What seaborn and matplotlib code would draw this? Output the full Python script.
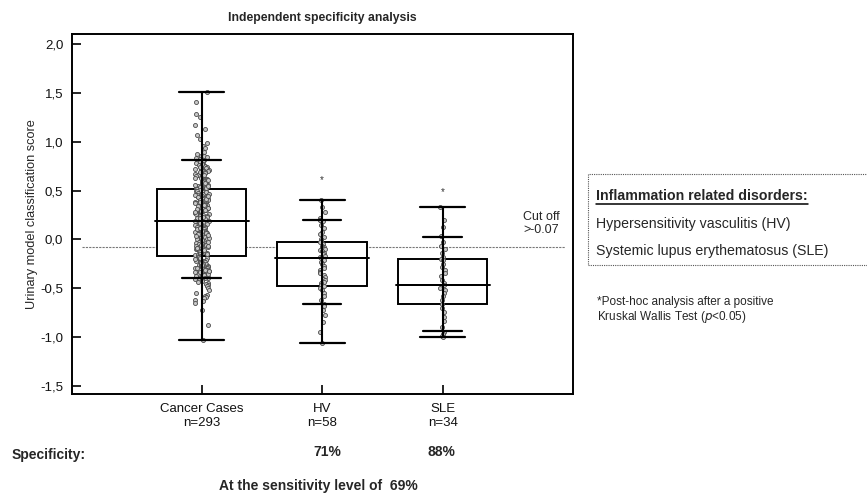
import matplotlib
matplotlib.use("Agg")
import matplotlib.pyplot as plt
from matplotlib.lines import Line2D
from matplotlib.patches import Rectangle
import seaborn as sns
import pandas as pd

groups = ["Cancer Cases", "HV", "SLE"]
tick_labels = ["Cancer Cases\nn=293", "HV\nn=58", "SLE\nn=34"]
specificity = ["", "71%", "88%"]

# values (approximate)
cancer_scores = [
    1.51, 1.41, 1.29, 1.26, 1.17, 1.13, 1.07, 1.03, 0.99, 0.96, 0.94, 0.90, 0.88, 0.86, 0.85, 0.84, 0.83, 0.82, 0.81,
    0.80, 0.79, 0.79, 0.78, 0.77, 0.76, 0.76, 0.75, 0.74, 0.73, 0.73, 0.72, 0.71, 0.70, 0.70, 0.69, 0.68, 0.67, 0.67,
    0.66, 0.65, 0.65, 0.64, 0.63, 0.62, 0.62, 0.61, 0.60, 0.60, 0.59, 0.58, 0.57, 0.57, 0.56, 0.55, 0.55, 0.54, 0.53,
    0.53, 0.52, 0.59, 0.58, 0.56, 0.54, 0.52, 0.61, 0.63, 0.66, 0.69, 0.72, 0.74, 0.77, 0.53, 0.55,
    0.51, 0.50, 0.50, 0.49, 0.48, 0.48, 0.47, 0.47, 0.46, 0.45, 0.45, 0.44, 0.44, 0.43, 0.42, 0.42, 0.41, 0.41, 0.40,
    0.39, 0.39, 0.38, 0.38, 0.37, 0.36, 0.36, 0.35, 0.35, 0.34, 0.33, 0.33, 0.32, 0.32, 0.31, 0.30, 0.30, 0.29, 0.29,
    0.28, 0.27, 0.27, 0.26, 0.26, 0.25, 0.24, 0.24, 0.23, 0.23, 0.22, 0.21, 0.21, 0.20, 0.20, 0.19, 0.19, 0.49, 0.46,
    0.43, 0.40, 0.37, 0.34, 0.31, 0.28, 0.25, 0.22, 0.47, 0.41, 0.35, 0.29, 0.23, 0.44, 0.38, 0.32, 0.30,
    0.18, 0.18, 0.17, 0.16, 0.16, 0.15, 0.14, 0.14, 0.13, 0.12, 0.12, 0.11, 0.10, 0.10, 0.09, 0.08, 0.08, 0.07, 0.06,
    0.06, 0.05, 0.04, 0.04, 0.03, 0.02, 0.02, 0.01, 0.00, 0.00, -0.01, -0.02, -0.02, -0.03, -0.04, -0.04, -0.05,
    -0.06, -0.06, -0.07, -0.08, -0.08, -0.09, -0.10, -0.10, -0.11, -0.12, -0.12, -0.13, -0.14, -0.14, -0.15, -0.16,
    -0.16, 0.17, 0.15, 0.13, 0.11, 0.09, 0.07, 0.05, 0.03, 0.01, -0.01, -0.03, -0.05, -0.07, -0.09, -0.11, -0.13,
    -0.15, 0.12, 0.04, -0.06,
    -0.17, -0.18, -0.19, -0.20, -0.20, -0.21, -0.22, -0.23, -0.23, -0.24, -0.25, -0.26, -0.26, -0.27, -0.28, -0.29,
    -0.29, -0.30, -0.31, -0.32, -0.32, -0.33, -0.34, -0.35, -0.35, -0.36, -0.37, -0.38, -0.38, -0.39, -0.18, -0.21,
    -0.24, -0.27, -0.30, -0.33, -0.36, -0.19, -0.22, -0.25, -0.28, -0.31, -0.34, -0.37, -0.20, -0.26, -0.32, -0.38,
    -0.29,
    -0.40, -0.40, -0.41, -0.42, -0.42, -0.43, -0.44, -0.45, -0.46, -0.47, -0.48, -0.50, -0.52, -0.55, -0.57, -0.58,
    -0.59, -0.60, -0.62, -0.63, -0.65, -0.72, -0.88, -1.03,
]
hv_scores = [
    0.40, 0.33, 0.28, 0.22, 0.20, 0.20, 0.19, 0.15, 0.12, 0.08, 0.05, 0.02, 0.00, -0.02, -0.03, -0.05, -0.07, -0.08,
    -0.08, -0.09, -0.10, -0.10, -0.11, -0.12, -0.14, -0.15, -0.17, -0.18, -0.19, -0.20, -0.21, -0.23, -0.25, -0.27,
    -0.29, -0.31, -0.33, -0.35, -0.37, -0.39, -0.41, -0.42, -0.44, -0.45, -0.47, -0.48, -0.50, -0.52, -0.55, -0.58,
    -0.62, -0.66, -0.68, -0.72, -0.78, -0.85, -0.95, -1.06,
]
sle_scores = [
    0.33, 0.20, 0.13, 0.03, -0.03, -0.07, -0.10, -0.14, -0.18, -0.20, -0.21, -0.25, -0.28, -0.31, -0.35, -0.38,
    -0.42, -0.45, -0.47, -0.50, -0.52, -0.55, -0.58, -0.62, -0.66, -0.70, -0.75, -0.80, -0.84, -0.90, -0.95, -0.97,
    -0.99, -1.00,
]

# box summary per group
box_q1 = [-0.167, -0.475, -0.664]
box_med = [0.185, -0.192, -0.469]
box_q3 = [0.513, -0.031, -0.205]
whisker_lo = [-1.03, -1.06, -0.999]
whisker_hi = [1.512, 0.40, 0.332]
inner_lo = [-0.393, -0.66, -0.945]
inner_hi = [0.814, 0.198, 0.028]
star_y = [None, 0.606, 0.486]
cutoff = -0.075

df = pd.DataFrame({
    "group": ["Cancer Cases"] * len(cancer_scores) + ["HV"] * len(hv_scores) + ["SLE"] * len(sle_scores),
    "score": cancer_scores + hv_scores + sle_scores,
})

sns.set_theme(style="white")
plt.rcParams["font.family"] = ["Liberation Sans", "DejaVu Sans"]

W, H = 867, 493
fig = plt.figure(figsize=(W / 100, H / 100), dpi=100)
ax = fig.add_axes([71.7 / W, 1 - 394.3 / H, 501 / W, 360.6 / H])

pos = [0, 1, 2]
ax.plot([-0.99, 3.015], [cutoff, cutoff], ls=(0, (2, 1)), color="#777777", lw=0.8, zorder=1)

stats = []
for i in range(3):
    stats.append(dict(med=box_med[i], q1=box_q1[i], q3=box_q3[i],
                      whislo=whisker_lo[i], whishi=whisker_hi[i], fliers=[]))
ax.bxp(stats, positions=pos, widths=0.743, capwidths=0.373, showfliers=False, patch_artist=True,
       boxprops=dict(facecolor="white", edgecolor="black", linewidth=1.4, zorder=2),
       whiskerprops=dict(color="black", linewidth=1.4, zorder=2),
       capprops=dict(color="black", linewidth=1.6, zorder=4),
       medianprops=dict(color="black", linewidth=1.4, zorder=2),
       manage_ticks=False)

dot_kw = dict(x="group", y="score", order=groups, ax=ax, size=2.9,
              color="#c8c8c8", edgecolor="#4a4a4a", linewidth=0.6, zorder=3)
sns.stripplot(data=df[df.group == "Cancer Cases"], jitter=0.06, **dot_kw)
sns.stripplot(data=df[df.group != "Cancer Cases"], jitter=0.022, **dot_kw)

ax.vlines(pos, whisker_lo, whisker_hi, color="black", lw=1.5, zorder=4)
for i in pos:
    ax.plot([i - 0.16, i + 0.16], [inner_lo[i]] * 2, color="black", lw=1.6, zorder=4)
    ax.plot([i - 0.16, i + 0.16], [inner_hi[i]] * 2, color="black", lw=1.6, zorder=4)
    ax.plot([i - 0.39, i + 0.39], [box_med[i]] * 2, color="black", lw=1.4, zorder=4)
    if star_y[i] is not None:
        ax.text(i, star_y[i], "*", ha="center", va="center", fontsize=7, color="#333333")

ax.text(2.82, 0.035, "Cut off\n>-0.07", ha="center", va="bottom", fontsize=9, linespacing=1.1)

ax.set_xlim(-1.079, 3.08)
ax.set_ylim(-1.59, 2.11)
ax.set_yticks([-1.5, -1.0, -0.5, 0.0, 0.5, 1.0, 1.5, 2.0])
ax.set_yticklabels([f"{v:.1f}".replace(".", ",") for v in ax.get_yticks()])
ax.set_xticks(pos)
ax.set_xticklabels(tick_labels, linespacing=1.25)
ax.tick_params(axis="both", direction="in", length=6.5, width=1.2, color="black", labelsize=9.5,
               labelcolor="#111111")
ax.tick_params(axis="y", pad=6)
ax.tick_params(axis="x", pad=6)
ax.tick_params(left=True, bottom=True)
for s in ax.spines.values():
    s.set_color("black")
    s.set_linewidth(1.4)
ax.set_xlabel("")
ax.set_ylabel("Urinary model classification score", fontsize=9.2)
ax.yaxis.set_label_coords(-0.068, 0.5)
ax.set_title("Independent specificity analysis", fontsize=8.8, fontweight="bold", pad=9)

def fx(x):
    return x / W

def fy(y):
    return 1 - y / H

fig.text(fx(12), fy(455), "Specificity:", fontsize=10, fontweight="bold", va="center")
for i, s in enumerate(specificity):
    if s:
        fig.text(fx([201.7, 327.5, 441][i]), fy(452), s, fontsize=10, fontweight="bold",
                 ha="center", va="center")
fig.text(fx(318), fy(486), "At the sensitivity level of  69%", fontsize=10, fontweight="bold",
         ha="center", va="center")

fig.patches.append(Rectangle((fx(588), fy(265)), fx(300), 91 / H, transform=fig.transFigure,
                             fill=False, ls=(0, (1, 1)), lw=0.8, edgecolor="#555555"))
head = fig.text(fx(596), fy(196), "Inflammation related disorders:", fontsize=10.2, fontweight="bold",
                va="center")
fig.text(fx(596), fy(224), "Hypersensitivity vasculitis (HV)", fontsize=10.2, va="center")
fig.text(fx(596), fy(251), "Systemic lupus erythematosus (SLE)", fontsize=10.2, va="center")
fig.canvas.draw()
bb = head.get_window_extent()
fig.lines.append(Line2D([bb.x0 / W, bb.x1 / W], [fy(203.5)] * 2, transform=fig.transFigure,
                        color="black", lw=1.1))

fig.text(fx(597), fy(302), "*Post-hoc analysis after a positive", fontsize=8.5, va="center")
fig.text(fx(597), fy(317), "Kruskal Wallis Test ($\\it{p}$<0.05)", fontsize=8.5, va="center")

fig.savefig("out.png", dpi=100, facecolor="white")
